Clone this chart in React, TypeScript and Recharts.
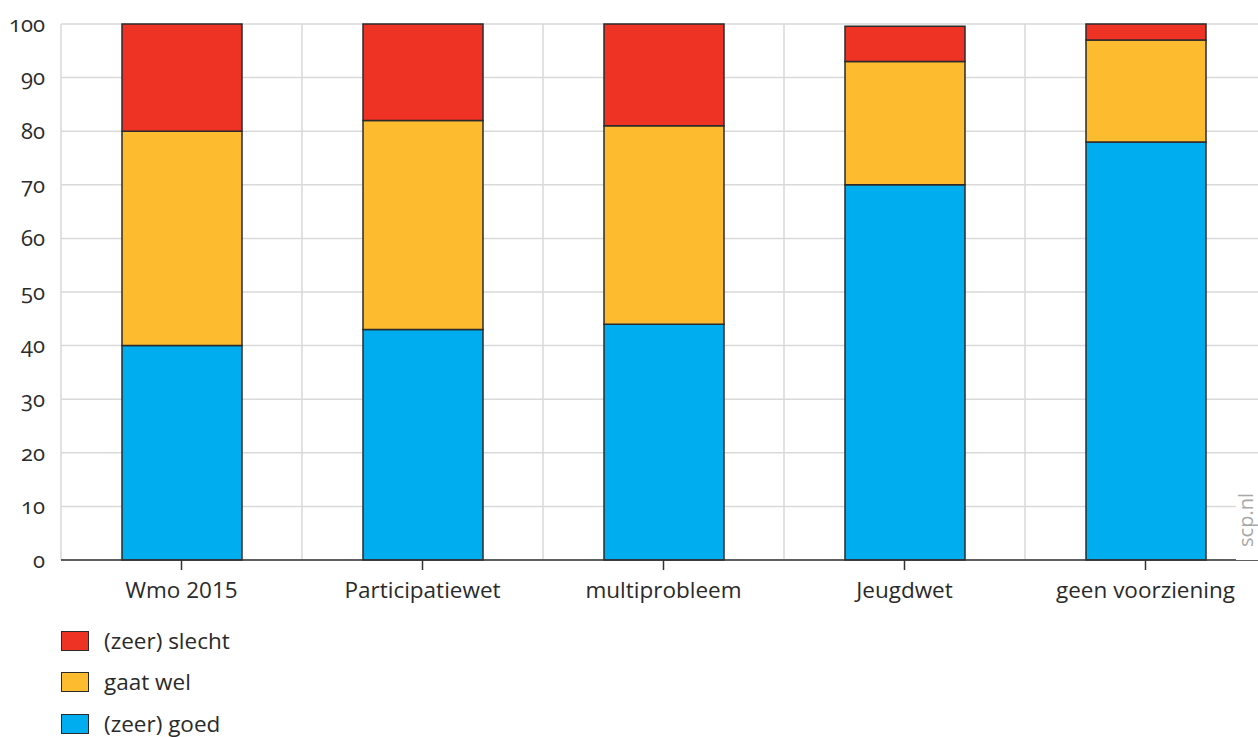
import React from 'react';
import { BarChart, Bar, XAxis, YAxis, CartesianGrid } from 'recharts';

const categories = ['Wmo 2015', 'Participatiewet', 'multiprobleem', 'Jeugdwet', 'geen voorziening'];
const goed = [40, 43, 44, 70, 78];
const gaatWel = [40, 39, 37, 23, 19];
const slecht = [20, 18, 19, 6.6, 3];
const yTicks = [0, 10, 20, 30, 40, 50, 60, 70, 80, 90, 100];

const seriesKeys = ['goed', 'gaatWel', 'slecht'];
const seriesNames = ['(zeer) goed', 'gaat wel', '(zeer) slecht'];
const seriesColors = ['#00AEEF', '#FDBB30', '#EE3224'];

const data = categories.map((c, i) => ({ name: c, goed: goed[i], gaatWel: gaatWel[i], slecht: slecht[i] }));

const FONT = '"Open Sans", "Noto Sans", sans-serif';
const TEXT = '#2a2a2a';

export default function App() {
  const legendOrder = [2, 1, 0];
  return (
    <div style={{ position: 'absolute', left: 0, top: 0, width: 1258, height: 737, overflow: 'hidden', background: '#fff', fontFamily: FONT }}>
      <BarChart width={1270} height={737} data={data} margin={{ top: 24, right: 4, left: 0, bottom: 137 }}>
        <CartesianGrid
          stroke="#d9d9d9"
          strokeWidth={1.5}
          verticalCoordinatesGenerator={({ offset }: any) =>
            categories.map((_, i) => offset.left + (i * offset.width) / categories.length)
          }
        />
        <XAxis
          dataKey="name"
          height={40}
          interval={0}
          axisLine={{ stroke: '#333', strokeWidth: 1.5 }}
          tickLine={{ stroke: '#333', strokeWidth: 1.5 }}
          tickSize={10}
          tickMargin={12}
          tick={{ fill: TEXT, fontSize: 22.5, fontFamily: FONT }}
        />
        <YAxis
          width={61}
          domain={[0, 100]}
          ticks={yTicks}
          interval={0}
          axisLine={false}
          tickLine={false}
          tickSize={0}
          tickMargin={16}
          tick={{ fill: TEXT, fontSize: 22, fontFamily: FONT, style: { fontVariantNumeric: 'oldstyle-nums' } } as any}
        />
        {seriesKeys.map((k, i) => (
          <Bar
            key={k}
            dataKey={k}
            name={seriesNames[i]}
            stackId="a"
            fill={seriesColors[i]}
            stroke="#2b2b2b"
            strokeWidth={1.5}
            barSize={120}
            isAnimationActive={false}
          />
        ))}
      </BarChart>
      <div
        style={{
          position: 'absolute',
          left: 1236,
          top: 470,
          width: 22,
          height: 90,
          background: '#fff',
        }}
      />
      <div
        style={{
          position: 'absolute',
          left: 1246,
          top: 520,
          transform: 'translate(-50%, -50%) rotate(-90deg)',
          color: '#a8a8a8',
          fontSize: 20,
          fontFamily: FONT,
          whiteSpace: 'nowrap',
          lineHeight: 1,
        }}
      >
        scp.nl
      </div>
      <div style={{ position: 'absolute', left: 61, top: 620 }}>
        {legendOrder.map((idx) => (
          <div key={idx} style={{ display: 'flex', alignItems: 'center', height: 41.5 }}>
            <div
              style={{
                width: 26,
                height: 18,
                background: seriesColors[idx],
                border: '1.5px solid #2b2b2b',
                marginRight: 15,
              }}
            />
            <span style={{ fontSize: 22.5, color: TEXT, fontFamily: FONT, lineHeight: 1 }}>{seriesNames[idx]}</span>
          </div>
        ))}
      </div>
    </div>
  );
}
